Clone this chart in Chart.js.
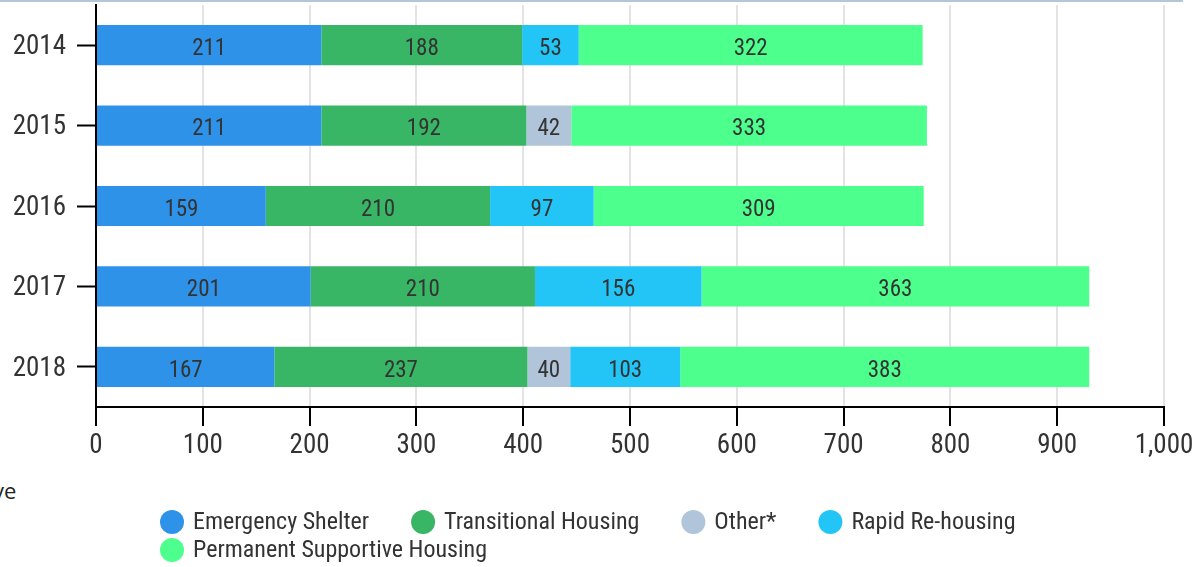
<!DOCTYPE html>
<html>
<head>
<meta charset="utf-8">
<script src="https://cdn.jsdelivr.net/npm/chart.js@4.4.1/dist/chart.umd.min.js"></script>
<style>
  body { margin: 0; background: #fff; }
  .wrap { position: relative; width: 1199px; height: 567px; overflow: hidden; }
  .topline { position: absolute; left: 0; top: 0; width: 1183px; height: 2px; background: #b3c7da; }
  .cut { position: absolute; left: -7px; top: 475px; font: 22px 'Open Sans', sans-serif; color: #222; }
  canvas { position: absolute; left: 0; top: 0; }
</style>
</head>
<body>
<div class="wrap">
  <div class="topline"></div>
  <div class="cut">ve</div>
  <canvas id="chart" width="1199" height="567"></canvas>
</div>
<script>
const years = ['2014', '2015', '2016', '2017', '2018'];
const emergencyShelter = [211, 211, 159, 201, 167];
const transitionalHousing = [188, 192, 210, 210, 237];
const other = [null, 42, null, null, 40];
const rapidRehousing = [53, null, 97, 156, 103];
const permanentSupportive = [322, 333, 309, 363, 383];
const xTicks = [0, 100, 200, 300, 400, 500, 600, 700, 800, 900, 1000];

const FONT = "'Roboto Condensed', 'Liberation Sans Narrow', Roboto, sans-serif";
const TEXT = '#333';

// value labels in the middle of each segment
const barLabels = {
  id: 'barLabels',
  afterDatasetsDraw(chart) {
    const ctx = chart.ctx;
    ctx.save();
    ctx.font = '23px ' + FONT;
    ctx.fillStyle = TEXT;
    ctx.textAlign = 'center';
    ctx.textBaseline = 'middle';
    chart.data.datasets.forEach((ds, i) => {
      chart.getDatasetMeta(i).data.forEach((bar, j) => {
        const v = ds.data[j];
        if (v == null) return;
        const p = bar.getProps(['x', 'y', 'base'], true);
        ctx.fillText(v, (p.x + p.base) / 2, p.y + 4);
      });
    });
    ctx.restore();
  }
};

// legend drawn by hand so the spacing can match
const dotLegend = {
  id: 'dotLegend',
  afterDraw(chart) {
    const ctx = chart.ctx;
    ctx.save();
    ctx.font = '24px ' + FONT;
    ctx.textBaseline = 'middle';
    let x = 160, y = 522;
    chart.data.datasets.forEach(ds => {
      const w = ctx.measureText(ds.label).width;
      if (x + 33 + w > 1150) { x = 160; y += 28; }
      ctx.fillStyle = ds.backgroundColor;
      ctx.beginPath();
      ctx.arc(x + 12, y, 12, 0, Math.PI * 2);
      ctx.fill();
      ctx.fillStyle = TEXT;
      ctx.fillText(ds.label, x + 33, y + 1);
      x += 33 + w + 42;
    });
    ctx.restore();
  }
};

new Chart(document.getElementById('chart'), {
  type: 'bar',
  data: {
    labels: years,
    datasets: [
      { label: 'Emergency Shelter', data: emergencyShelter, backgroundColor: '#2e93e8' },
      { label: 'Transitional Housing', data: transitionalHousing, backgroundColor: '#38b665' },
      { label: 'Other*', data: other, backgroundColor: '#b0c5d9' },
      { label: 'Rapid Re-housing', data: rapidRehousing, backgroundColor: '#22c5f5' },
      { label: 'Permanent Supportive Housing', data: permanentSupportive, backgroundColor: '#4dff8d' }
    ]
  },
  options: {
    indexAxis: 'y',
    responsive: false,
    animation: false,
    datasets: { bar: { barPercentage: 0.5, categoryPercentage: 1 } },
    layout: { padding: { top: 5, right: 35, bottom: 100, left: 0 } },
    plugins: { legend: { display: false }, tooltip: { enabled: false } },
    scales: {
      x: {
        stacked: true,
        min: 0,
        max: 1000,
        afterBuildTicks: s => { s.ticks = xTicks.map(v => ({ value: v })); },
        afterFit: s => { s.height = 60; },
        grid: { color: '#e3e3e3', lineWidth: 2, tickColor: '#000', tickWidth: 2, tickLength: 19 },
        border: { color: '#000', width: 2 },
        ticks: { color: TEXT, font: { family: FONT, size: 27 }, padding: 4, maxRotation: 0 }
      },
      y: {
        stacked: true,
        afterFit: s => { s.width = 96; s.paddingTop = 0; s.paddingBottom = 0; },
        grid: { offset: false, drawOnChartArea: false, tickColor: '#000', tickWidth: 2, tickLength: 19 },
        border: { color: '#000', width: 2 },
        ticks: { color: TEXT, font: { family: FONT, size: 27 }, padding: 11, labelOffset: 2 }
      }
    }
  },
  plugins: [barLabels, dotLegend]
});
</script>
</body>
</html>
